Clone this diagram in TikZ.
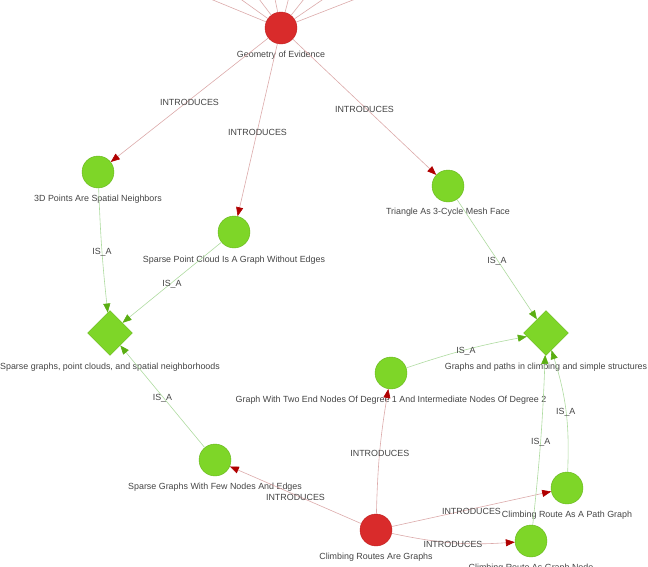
\documentclass[tikz,border=0pt]{standalone}
\usepackage{fontspec}
\setmainfont{Liberation Sans}
\usetikzlibrary{arrows.meta,shapes.geometric}
\definecolor{nodered}{HTML}{D92B2B}
\definecolor{redrim}{HTML}{C02020}
\definecolor{nodegreen}{HTML}{7ED628}
\definecolor{greenrim}{HTML}{66B41C}
\definecolor{linkred}{HTML}{DCAAAA}
\definecolor{tipred}{HTML}{B00000}
\definecolor{linkgreen}{HTML}{AEDBA0}
\definecolor{tipgreen}{HTML}{5AAE12}
\definecolor{labelgrey}{HTML}{444444}

\begin{document}
\begin{tikzpicture}[
    x=1pt, y=-1pt,
    every node/.style={font=\fontsize{8.9}{10}\selectfont, text=labelgrey},
    source/.style={circle, fill=nodered, draw=redrim, line width=0.4pt, minimum size=32pt, inner sep=0pt},
    concept/.style={circle, fill=nodegreen, draw=greenrim, line width=0.4pt, minimum size=32pt, inner sep=0pt},
    topic/.style={diamond, fill=nodegreen, draw=greenrim, line width=0.4pt, minimum size=45pt, inner sep=0pt},
    lbl/.style={inner sep=1pt},
    elbl/.style={inner sep=1pt, yshift=-2pt},
    intro/.style={draw=linkred, line width=0.6pt, -{Triangle[length=9pt,width=7pt,color=tipred]}},
    isa/.style={draw=linkgreen, line width=0.6pt, -{Triangle[length=9pt,width=7pt,color=tipgreen]}},
    away/.style={draw=linkred, line width=0.6pt}
  ]
  \useasboundingbox (0,0) rectangle (648,566);
  \clip (0,0) rectangle (648,566);

  % ---- links leaving the frame at the top ------------------------------
  \coordinate (up1) at (140,-30);
  \coordinate (up2) at (200,-30);
  \coordinate (up3) at (237,-30);
  \coordinate (up4) at (269,-30);
  \coordinate (up5) at (296,-30);
  \coordinate (up6) at (327,-30);
  \coordinate (up7) at (366,-30);
  \coordinate (up8) at (430,-30);

  % ---- nodes -----------------------------------------------------------
  \node[source]  (goe) at (281,28)  {};
  \node[concept] (pts) at (98,172)  {};
  \node[concept] (spc) at (234,232) {};
  \node[concept] (tri) at (448,186) {};
  \node[topic]   (sgp) at (110,333) {};
  \node[topic]   (gpc) at (546,333) {};
  \node[concept] (gte) at (391,373) {};
  \node[concept] (sgf) at (215,460) {};
  \node[source]  (crg) at (376,530) {};
  \node[concept] (rpg) at (567,488) {};
  \node[concept] (rgn) at (531,541) {};

  \node[lbl] (goel) at (281,55)  {Geometry of Evidence};
  \node[lbl] (ptsl) at (98,199)  {3D Points Are Spatial Neighbors};
  \node[lbl] (spcl) at (234,260) {Sparse Point Cloud Is A Graph Without Edges};
  \node[lbl] (tril) at (448,212) {Triangle As 3-Cycle Mesh Face};
  \node[lbl] (sgpl) at (110,367) {Sparse graphs, point clouds, and spatial neighborhoods};
  \node[lbl] (gpcl) at (546,367) {Graphs and paths in climbing and simple structures};
  \node[lbl] (gtel) at (391,400) {Graph With Two End Nodes Of Degree 1 And Intermediate Nodes Of Degree 2};
  \node[lbl] (sgfl) at (215,487) {Sparse Graphs With Few Nodes And Edges};
  \node[lbl] (crgl) at (376,557) {Climbing Routes Are Graphs};
  \node[lbl] (rpgl) at (567,515) {Climbing Route As A Path Graph};
  \node[lbl] (rgnl) at (531,568) {Climbing Route As Graph Node};

  % ---- INTRODUCES ------------------------------------------------------
  \draw[away] (goe) -- (up1);
  \draw[away] (goe) -- (up2);
  \draw[away] (goe) -- (up3);
  \draw[away] (goe) -- (up4);
  \draw[away] (goe) -- (up5);
  \draw[away] (goe) -- (up6);
  \draw[away] (goe) -- (up7);
  \draw[away] (goe) -- (up8);
  \draw[intro] (goe) -- node[elbl] {INTRODUCES} (pts);
  \draw[intro] (goe) -- node[elbl] {INTRODUCES} (spc);
  \draw[intro] (goe) -- node[elbl] {INTRODUCES} (tri);
  \draw[intro] (crg) to[bend left=4] node[elbl] {INTRODUCES} (gte);
  \draw[intro] (crg) -- node[elbl] {INTRODUCES} (sgf);
  \draw[intro] (crg) -- node[elbl] {INTRODUCES} (rpg);
  \draw[intro] (crg) to[bend right=8] node[elbl] {INTRODUCES} (rgn);

  % ---- IS_A ------------------------------------------------------------
  \draw[isa] (pts) to[bend right=2] node[elbl] {IS\_A} (sgp);
  \draw[isa] (spc) -- node[elbl] {IS\_A} (sgp);
  \draw[isa] (sgf) -- node[elbl] {IS\_A} (sgp);
  \draw[isa] (tri) -- node[elbl] {IS\_A} (gpc);
  \draw[isa] (gte) to[bend left=4] node[elbl] {IS\_A} (gpc);
  \draw[isa] (rpg) to[bend right=10] node[elbl] {IS\_A} (gpc);
  \draw[isa] (rgn) to[bend right=2] node[elbl] {IS\_A} (gpc);

\end{tikzpicture}
\end{document}
